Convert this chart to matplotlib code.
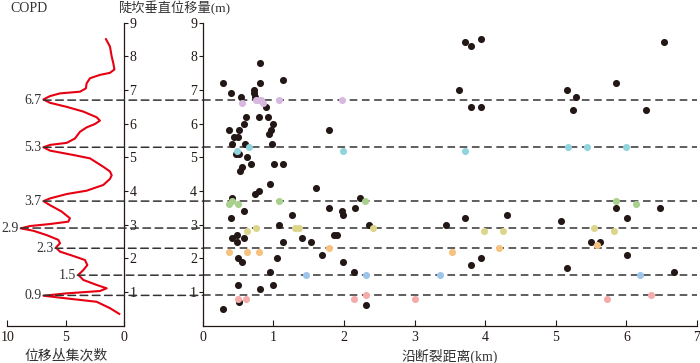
import matplotlib
matplotlib.use("Agg")
import matplotlib.pyplot as plt
from matplotlib.patches import ConnectionPatch

# ---- data ----
# COPD curve: count (x, reversed axis) vs displacement (y)
copd_count = [1.54, 1.2, 1.05, 0.91, 0.82, 1.2, 2.06, 2.91, 3.2, 3.26, 3.77, 5.48, 6.34, 6.9,
              6.34, 4.91, 3.49, 2.34, 2.06, 2.49, 3.2, 3.77, 4.2, 4.91, 6.34, 6.9,
              6.34, 4.34, 2.91, 1.77, 1.2, 1.05, 1.2, 1.77, 3.2, 4.91, 6.34, 6.9,
              6.34, 5.34, 4.63, 4.77, 6.34, 8.05, 8.85, 7.77, 6.62, 5.63, 5.48, 5.83,
              5.48, 4.34, 3.34, 3.14, 3.49, 3.91, 3.49, 2.34, 1.48, 2.06, 4.91, 6.9,
              4.91, 2.34, 1.2, 0.4]
copd_disp = [8.51, 8.29, 7.99, 7.79, 7.61, 7.51, 7.45, 7.35, 7.2, 7.05, 6.95, 6.90, 6.82, 6.72,
             6.62, 6.50, 6.36, 6.19, 6.09, 5.99, 5.89, 5.76, 5.56, 5.43, 5.37, 5.30,
             5.20, 5.07, 4.97, 4.72, 4.58, 4.47, 4.36, 4.18, 4.01, 3.91, 3.78, 3.70,
             3.58, 3.39, 3.19, 3.09, 3.02, 2.96, 2.89, 2.82, 2.69, 2.55, 2.45, 2.32,
             2.20, 2.07, 1.95, 1.80, 1.65, 1.51, 1.36, 1.21, 1.11, 1.03, 0.96, 0.89,
             0.81, 0.71, 0.52, 0.35]

peak_disp = [6.7, 5.3, 3.7, 2.9, 2.3, 1.5, 0.9]
peak_count = [6.9, 6.9, 6.9, 8.85, 5.9, 4.0, 6.9]
peak_labels = ["6.7", "5.3", "3.7", "2.9", "2.3", "1.5", "0.9"]

black_x = [0.29, 0.40, 0.54, 0.81, 0.81, 1.13, 0.72, 0.73, 0.74, 0.90,
           0.62, 0.79, 0.92, 0.58, 1.00, 0.37, 0.52, 0.96, 0.94, 0.44, 0.50,
           0.42, 0.60, 0.98, 0.47, 0.52, 0.63, 0.68, 1.01, 1.13, 0.55, 0.53, 1.79,
           0.79, 0.74, 0.95, 1.61, 0.42, 2.23, 0.58, 0.40, 1.26, 1.79, 1.97, 1.98, 2.16,
           1.08, 2.36, 0.42, 0.49, 0.58, 0.48, 1.13, 1.40, 1.53, 1.86, 1.90,
           0.50, 0.56, 1.05, 1.69, 1.98, 0.95, 2.14, 0.50, 1.00, 0.81, 0.52, 0.29, 2.31,
           3.71, 3.80, 3.94, 6.53, 3.63, 3.80, 3.94, 5.16, 5.29, 5.24, 5.86, 6.28,
           5.86, 6.48, 6.01, 3.45, 3.71, 4.31, 5.07, 5.50, 5.63, 6.01, 3.94, 3.80, 5.16, 6.67]
black_y = [7.2, 6.9, 6.8, 7.8, 7.2, 7.3, 7.0, 6.9, 6.8, 6.5,
           6.2, 6.2, 6.2, 6.0, 6.0, 5.8, 5.8, 5.8, 5.7, 5.6, 5.6,
           5.4, 5.4, 5.4, 5.1, 5.1, 5.0, 4.8, 4.8, 4.8, 4.7, 4.6, 5.8,
           4.0, 3.9, 4.2, 4.1, 3.8, 3.8, 3.4, 3.2, 3.3, 3.5, 3.4, 3.3, 3.5,
           3.0, 3.0, 2.6, 2.7, 2.6, 2.5, 2.5, 2.6, 2.5, 2.7, 2.7,
           2.0, 1.9, 2.0, 2.1, 1.9, 1.6, 1.6, 1.2, 1.2, 1.1, 0.7, 0.5, 0.6,
           8.43, 8.32, 8.52, 8.43, 7.0, 6.5, 6.5, 7.0, 6.8, 6.4, 7.2, 6.4,
           3.5, 3.5, 3.2, 3.0, 3.2, 3.3, 3.1, 2.5, 2.5, 2.1, 2.0, 1.8, 1.7, 1.6]

lilac_x = [0.56, 0.75, 0.80, 0.83, 0.86, 1.08, 1.97]
lilac_y = [6.6, 6.7, 6.7, 6.7, 6.6, 6.7, 6.7]
cyan_x = [0.49, 0.66, 1.98, 3.71, 5.17, 5.44, 6.00]
cyan_y = [5.2, 5.3, 5.2, 5.2, 5.3, 5.3, 5.3]
green_x = [0.37, 0.41, 0.50, 1.08, 2.30, 5.86, 6.14]
green_y = [3.6, 3.7, 3.6, 3.7, 3.7, 3.7, 3.6]
yellow_x = [0.63, 0.75, 1.31, 1.37, 2.41, 3.98, 4.25, 5.54, 5.82]
yellow_y = [2.8, 2.9, 2.9, 2.9, 2.9, 2.8, 2.8, 2.9, 2.8]
orange_x = [0.37, 0.63, 0.79, 1.79, 3.53, 4.20, 5.58]
orange_y = [2.2, 2.2, 2.2, 2.3, 2.2, 2.3, 2.4]
blue_x = [1.46, 2.31, 3.36, 6.19]
blue_y = [1.5, 1.5, 1.5, 1.5]
pink_x = [0.50, 0.61, 2.14, 2.31, 3.01, 5.72, 6.35]
pink_y = [0.8, 0.8, 0.8, 0.9, 0.8, 0.8, 0.9]

INK = "#231815"
SERIF = ["Liberation Serif", "Noto Sans CJK SC"]
plt.rcParams["font.family"] = SERIF
plt.rcParams["font.size"] = 10

fig = plt.figure(figsize=(7.0, 3.63), dpi=100)
axl = fig.add_axes([0.0104, 0.1028, 0.1667, 0.8347])
ax = fig.add_axes([0.2896, 0.1028, 0.7061, 0.8347])

# ---- left COPD panel ----
axl.plot(copd_count, copd_disp, color="#e60012", lw=1.5, solid_joinstyle="round")
axl.set_xlim(10, 0)
axl.set_ylim(0, 9)
for s in ["top", "left"]:
    axl.spines[s].set_visible(False)
for s in ["right", "bottom"]:
    axl.spines[s].set_color(INK)
    axl.spines[s].set_linewidth(0.9)
axl.yaxis.tick_right()
axl.set_yticks(range(1, 10))
axl.set_xticks([10, 5, 0])
axl.tick_params(axis="y", direction="out", length=3, width=0.8, pad=1, colors=INK)
axl.tick_params(axis="x", direction="in", length=4, width=0.8, pad=4, colors=INK)
for lab, xv, yv in zip(peak_labels, peak_count, peak_disp):
    axl.text(xv + 0.15, yv, lab, ha="right", va="center", fontsize=10, color="#333333")

# ---- main scatter panel ----
dot = 26
ax.scatter(black_x, black_y, s=dot, color=INK, zorder=3, linewidths=0)
for xs, ys, c in [(lilac_x, lilac_y, "#d7b8de"), (cyan_x, cyan_y, "#92d4de"),
                  (green_x, green_y, "#a9d18e"), (yellow_x, yellow_y, "#ddd58a"),
                  (orange_x, orange_y, "#f6c27f"), (blue_x, blue_y, "#9dc5ea"),
                  (pink_x, pink_y, "#f4abaa")]:
    ax.scatter(xs, ys, s=dot, color=c, zorder=3, linewidths=0)
ax.set_xlim(0, 7)
ax.set_ylim(0, 9)
for s in ["top", "right"]:
    ax.spines[s].set_visible(False)
for s in ["left", "bottom"]:
    ax.spines[s].set_color(INK)
    ax.spines[s].set_linewidth(0.9)
ax.set_yticks(range(1, 10))
ax.set_xticks(range(0, 8))
ax.tick_params(axis="y", direction="out", length=3, width=0.8, pad=1, colors=INK)
ax.tick_params(axis="x", direction="in", length=4, width=0.8, pad=4, colors=INK)

dash = (0, (5, 3))
DCOL = "#333333"
for xv, yv in zip(peak_count, peak_disp):
    ax.axhline(yv, color=DCOL, lw=1.1, ls=dash, zorder=1)
    con = ConnectionPatch(xyA=(xv, yv), coordsA=axl.transData,
                          xyB=(0, yv), coordsB=ax.transData,
                          color=DCOL, lw=1.1, ls=dash)
    fig.add_artist(con)

# ---- labels ----
fig.text(10 / 700, 1 - 9 / 363, "COPD", ha="left", va="center", fontsize=10, color="#333333")
fig.text(118 / 700, 1 - 8 / 363, "陡坎垂直位移量(m)", ha="left", va="center",
         fontsize=9.5, color="#333333", family=SERIF)
fig.text(66 / 700, 1 - 356 / 363, "位移丛集次数", ha="center", va="center",
         fontsize=10, color="#333333", family=SERIF)
fig.text(450 / 700, 1 - 356 / 363, "沿断裂距离(km)", ha="center", va="center",
         fontsize=10, color="#333333", family=SERIF)

fig.savefig("out.png", dpi=100, facecolor="white")
